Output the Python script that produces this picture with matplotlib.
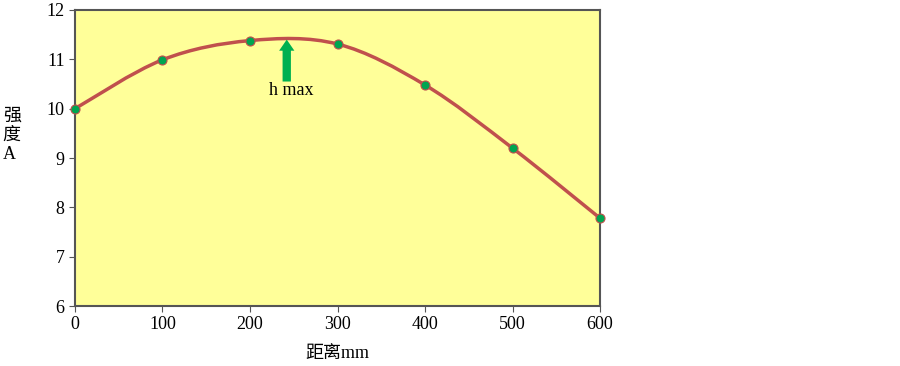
import numpy as np
import matplotlib.pyplot as plt
from matplotlib.path import Path
from matplotlib.patches import PathPatch

plt.rcParams['font.family'] = ['Liberation Serif', 'Noto Sans CJK SC', 'DejaVu Sans']

# data
dist = [0, 100, 200, 300, 400, 500, 600]
strength = [10.0, 10.99, 11.38, 11.31, 10.48, 9.2, 7.78]
xticks = [0, 100, 200, 300, 400, 500, 600]
yticks = [6, 7, 8, 9, 10, 11, 12]

fig = plt.figure(figsize=(9, 3.66), dpi=100)
ax = fig.add_axes([0.0833, 0.1639, 0.5834, 0.8088])
ax.set_facecolor('#FFFF99')

# smooth line through points (catmull-rom as bezier, like excel's smoothed line)
px = np.array(dist, dtype=float)
py = np.array(strength, dtype=float)
verts = [(px[0], py[0])]
codes = [Path.MOVETO]
n = len(px)
for i in range(n - 1):
    p0 = i - 1 if i > 0 else i
    p3 = i + 2 if i + 2 < n else i + 1
    c1 = (px[i] + (px[i + 1] - px[p0]) / 6, py[i] + (py[i + 1] - py[p0]) / 6)
    c2 = (px[i + 1] - (px[p3] - px[i]) / 6, py[i + 1] - (py[p3] - py[i]) / 6)
    verts += [c1, c2, (px[i + 1], py[i + 1])]
    codes += [Path.CURVE4] * 3
ax.add_patch(PathPatch(Path(verts, codes), fill=False, edgecolor='#C0504D',
                       lw=2.5, zorder=3, clip_on=False))
ax.plot(dist, strength, 'o', ms=6.5, color='#00A550', mec='#C0504D', mew=0.8,
        zorder=4, clip_on=False)

ax.annotate('', xy=(242, 11.40), xytext=(242, 10.55),
            arrowprops=dict(facecolor='#00B050', edgecolor='none', width=6,
                            headwidth=11, headlength=8))
ax.text(247, 10.37, 'h max', ha='center', va='center', fontsize=13)

ax.set_xlim(0, 600)
ax.set_ylim(6, 12)
ax.set_xticks(xticks)
ax.set_yticks(yticks)
ax.tick_params(labelsize=13, direction='out', length=4, color='#555555')
for s in ax.spines.values():
    s.set_color('#555555')
    s.set_linewidth(1.5)

ax.set_xlabel('距离mm', fontsize=13, labelpad=8)
fig.text(0.003, 0.63, '强\n度\nA', fontsize=13, ha='left', va='center',
         linespacing=1.15)

fig.savefig('out.png', dpi=100)
